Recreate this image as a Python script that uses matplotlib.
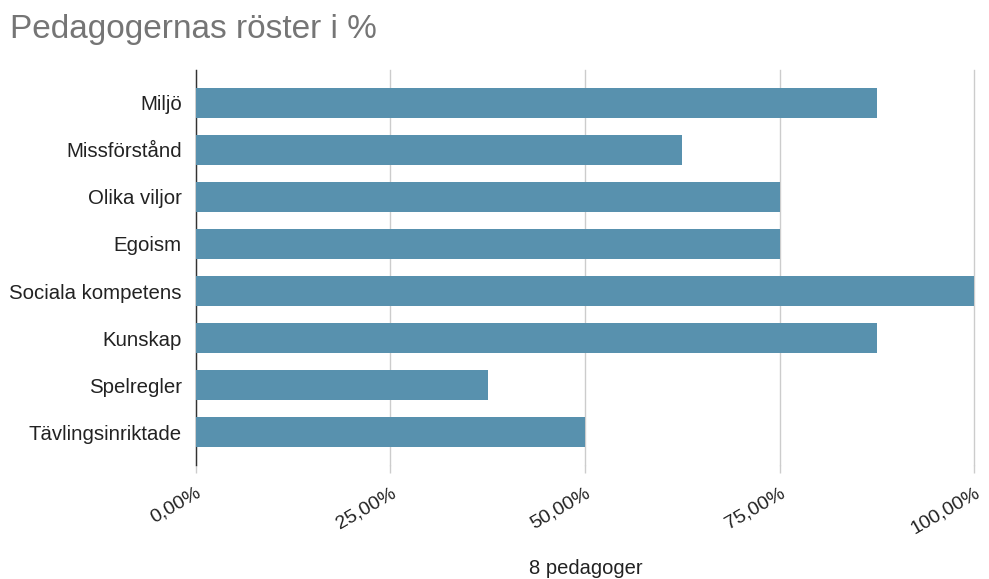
import matplotlib.pyplot as plt

plt.rcParams['font.family'] = ['Liberation Sans', 'DejaVu Sans']

categories = ['Miljö', 'Missförstånd', 'Olika viljor', 'Egoism',
              'Sociala kompetens', 'Kunskap', 'Spelregler', 'Tävlingsinriktade']
values = [87.5, 62.5, 75, 75, 100, 87.5, 37.5, 50]
xticks = [0, 25, 50, 75, 100]
xtick_labels = ['0,00%', '25,00%', '50,00%', '75,00%', '100,00%']

bar_color = '#5891ae'

fig = plt.figure(figsize=(9.89, 5.79), dpi=100)
ax = fig.add_axes([0.198, 0.197, 0.787, 0.682])

ypos = range(len(categories))
ax.barh(ypos, values, height=0.64, color=bar_color, zorder=3)

ax.set_xlim(0, 100)
ax.set_ylim(len(categories) - 0.3, -0.7)
ax.set_yticks(list(ypos))
ax.set_yticklabels(categories, fontsize=14.7, color='#222222')
ax.tick_params(axis='y', length=0, pad=10)

ax.set_xticks(xticks)
ax.set_xticklabels(xtick_labels, fontsize=14, color='#222222',
                   rotation=30, ha='right', rotation_mode='anchor')
ax.tick_params(axis='x', length=6, width=1, color='#cccccc', pad=8)
ax.xaxis.get_major_ticks()[0].tick1line.set_color('#333333')

ax.grid(axis='x', color='#cccccc', linewidth=1, zorder=0)
for gl in ax.xaxis.get_gridlines():
    gl.set_clip_on(False)
for s in ['top', 'right', 'bottom']:
    ax.spines[s].set_visible(False)
ax.spines['left'].set_color('#333333')
ax.spines['left'].set_linewidth(1)

fig.text(0.592, 0.018, '8 pedagoger', fontsize=14.5, color='#222222',
         ha='center', va='center')

fig.text(0.010, 0.935, 'Pedagogernas röster i %', fontsize=24,
         color='#757575', ha='left', va='baseline')

fig.savefig('out.png', dpi=100, facecolor='white')
